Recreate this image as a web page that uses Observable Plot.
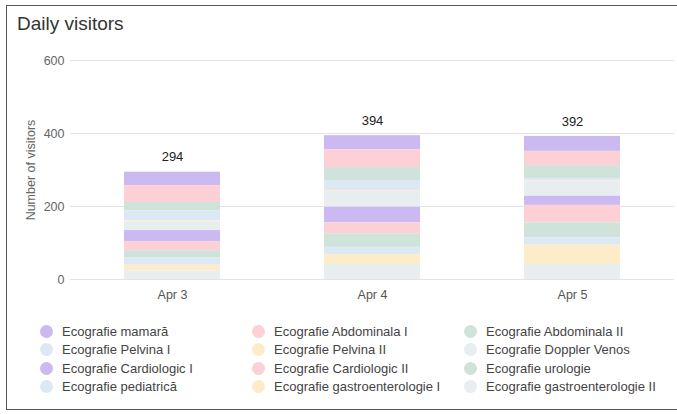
<!DOCTYPE html>
<html>
<head>
<meta charset="utf-8">
<script src="https://cdn.jsdelivr.net/npm/d3@7"></script>
<script src="https://cdn.jsdelivr.net/npm/@observablehq/plot@0.6"></script>
<style>
  html, body { margin: 0; padding: 0; background: #fff; }
  body { width: 677px; height: 414px; position: relative; overflow: hidden; font-family: "Liberation Sans", Arial, sans-serif; }
  #frame { position: absolute; left: 6px; top: 5px; width: 690px; height: 405px; border: 1.5px solid #555; box-sizing: border-box; }
  #title { position: absolute; left: 17px; top: 13px; font-size: 19px; color: #333; }
  #chart { position: absolute; left: 0; top: 0; }
  #legend { position: absolute; left: 40px; top: 322px; display: grid; grid-template-columns: 212px 212px 212px; row-gap: 0; font-size: 13px; color: #444; }
  .item { display: flex; align-items: center; height: 18.5px; white-space: nowrap; }
  .dot { width: 13px; height: 13px; border-radius: 50%; margin-right: 9px; flex: none; }
</style>
</head>
<body>
<div id="frame"></div>
<div id="title">Daily visitors</div>
<div id="chart"></div>
<div id="legend"></div>
<script>
const days = ["Apr 3", "Apr 4", "Apr 5"];
const seriesNames = [
  "Ecografie mamară", "Ecografie Abdominala I", "Ecografie Abdominala II",
  "Ecografie Pelvina I", "Ecografie Pelvina II", "Ecografie Doppler Venos",
  "Ecografie Cardiologic I", "Ecografie Cardiologic II", "Ecografie urologie",
  "Ecografie pediatrică", "Ecografie gastroenterologie I", "Ecografie gastroenterologie II"
];
const seriesColors = [
  "#cbb9f2", "#fdd0d5", "#cfe3da", "#dce8f3", "#fdecc8", "#e8edef",
  "#cbb9f2", "#fdd0d5", "#cfe3da", "#dce8f3", "#fdecc8", "#e8edef"
];
// values per series: [Apr 3, Apr 4, Apr 5]
const mamara = [37, 39, 41];
const abdominalaI = [46, 48, 39];
const abdominalaII = [23, 36, 35];
const pelvinaI = [27, 28, 6];
const pelvinaII = [3, 2, 2];
const dopplerVenos = [24, 43, 41];
const cardiologicI = [31, 43, 25];
const cardiologicII = [24, 30, 48];
const urologie = [20, 37, 41];
const pediatrica = [20, 20, 20];
const gastroI = [16, 27, 53];
const gastroII = [23, 41, 41];
const yTicks = [0, 200, 400, 600];

const seriesValues = [mamara, abdominalaI, abdominalaII, pelvinaI, pelvinaII, dopplerVenos,
  cardiologicI, cardiologicII, urologie, pediatrica, gastroI, gastroII];

const rows = [];
seriesNames.forEach((s, i) => days.forEach((d, j) => rows.push({day: d, series: s, value: seriesValues[i][j]})));
const totals = days.map((d, j) => ({day: d, total: d3.sum(seriesValues, v => v[j])}));

const chart = Plot.plot({
  width: 677,
  height: 310,
  marginTop: 60,
  marginBottom: 31,
  marginLeft: 70,
  marginRight: 3,
  style: {fontFamily: "Liberation Sans, Arial, sans-serif", fontSize: "12px", background: "transparent"},
  x: {domain: days, paddingInner: 0.522, paddingOuter: 0.2635, label: null, tickSize: 0, tickPadding: 10},
  y: {domain: [0, 600], ticks: yTicks, label: null, tickSize: 0, tickPadding: 10},
  color: {domain: seriesNames, range: seriesColors},
  marks: [
    Plot.gridY(yTicks, {stroke: "#e4e4e4", strokeOpacity: 1}),
    Plot.axisY(yTicks, {tickSize: 0, tickPadding: 6, fill: "#666", fontSize: 12.5}),
    Plot.axisX({tickSize: 0, tickPadding: 11, fill: "#555", fontSize: 12.5}),
    Plot.barY(rows, {x: "day", y: "value", z: "series", fill: "series", order: seriesNames.slice().reverse()}),
    Plot.text(totals, {x: "day", y: "total", text: d => String(d.total), dy: -15, fill: "#222", fontSize: 13}),
    Plot.text(["Number of visitors"], {frameAnchor: "left", textAnchor: "middle", dx: -40, rotate: -90, fill: "#666", fontSize: 12.5})
  ]
});
document.getElementById("chart").appendChild(chart);

const legend = document.getElementById("legend");
seriesNames.forEach((s, i) => {
  const it = document.createElement("div");
  it.className = "item";
  const dot = document.createElement("span");
  dot.className = "dot";
  dot.style.background = seriesColors[i];
  const label = document.createElement("span");
  label.textContent = s;
  it.appendChild(dot);
  it.appendChild(label);
  legend.appendChild(it);
});
</script>
</body>
</html>
